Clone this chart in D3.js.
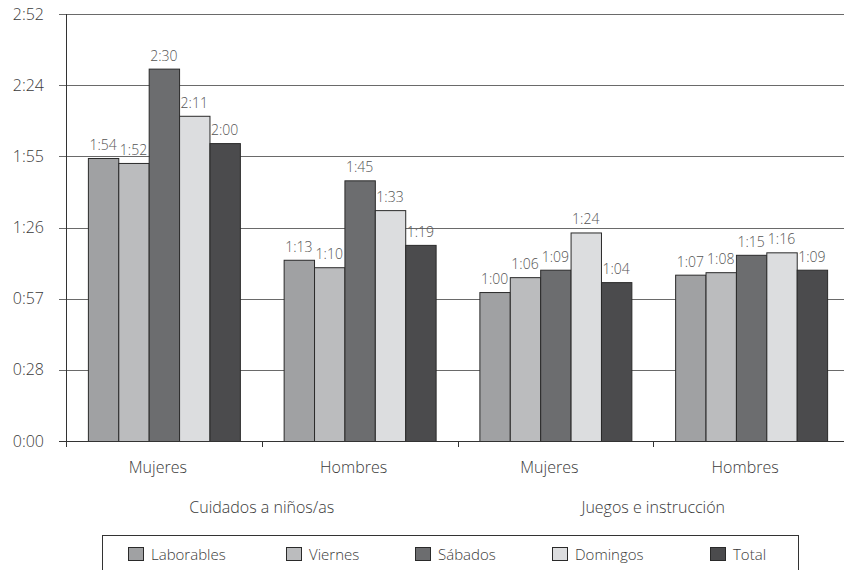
<!DOCTYPE html>
<html>
<head>
<meta charset="utf-8">
<script src="https://cdn.jsdelivr.net/npm/d3@7"></script>
<style>
  body { margin: 0; background: #fff; }
  svg { display: block; font-family: "Open Sans", "Noto Sans", sans-serif; font-weight: 300; }
</style>
</head>
<body>
<svg id="chart" width="844" height="570"></svg>
<script>
// minutes
const categories = ["Mujeres", "Hombres", "Mujeres", "Hombres"];
const groups = ["Cuidados a niños/as", "Juegos e instrucción"];
const series = ["Laborables", "Viernes", "Sábados", "Domingos", "Total"];
const laborables = [114, 73, 60, 67];
const viernes = [112, 70, 66, 68];
const sabados = [150, 105, 69, 75];
const domingos = [131, 93, 84, 76];
const total = [120, 79, 64, 69];
const yTickLabels = ["0:00", "0:28", "0:57", "1:26", "1:55", "2:24", "2:52"];
const yMax = 172;

const colors = ["#a0a1a3", "#bbbcbe", "#6c6d6f", "#dcdddf", "#4b4b4d"];
const values = [laborables, viernes, sabados, domingos, total];

const fmt = m => Math.floor(m / 60) + ":" + String(m % 60).padStart(2, "0");

const svg = d3.select("#chart");
const plotLeft = 66, plotRight = 849, plotTop = 14, plotBottom = 441;

const x0 = d3.scaleBand().domain(d3.range(categories.length)).range([plotLeft, plotRight]);
const x1 = d3.scaleBand().domain(series).range([0, x0.bandwidth()]).paddingOuter(0.72);
const y = d3.scaleLinear().domain([0, yMax]).range([plotBottom, plotTop]);
const yTicks = yTickLabels.map((d, i) => i * yMax / (yTickLabels.length - 1));

// gridlines
svg.append("g")
  .selectAll("line")
  .data(yTicks)
  .join("line")
    .attr("x1", plotLeft - 7).attr("x2", 844)
    .attr("y1", d => Math.round(y(d)) + 0.5).attr("y2", d => Math.round(y(d)) + 0.5)
    .attr("stroke", "#6a6a6a").attr("stroke-width", 1);

svg.append("g")
  .selectAll("text")
  .data(yTicks)
  .join("text")
    .attr("x", 44)
    .attr("y", d => y(d))
    .attr("dy", "0.35em")
    .attr("text-anchor", "end")
    .attr("font-size", 16)
    .attr("fill", "#3a3a3a")
    .text((d, i) => yTickLabels[i]);

// bars
const rows = [];
categories.forEach((c, i) => series.forEach((s, j) => rows.push({i, s, j, v: values[j][i]})));

const barG = svg.append("g");
barG.selectAll("rect")
  .data(rows)
  .join("rect")
    .attr("x", d => x0(d.i) + x1(d.s) + 0.5)
    .attr("y", d => y(d.v) + 0.5)
    .attr("width", x1.bandwidth())
    .attr("height", d => plotBottom - y(d.v))
    .attr("fill", d => colors[d.j])
    .attr("stroke", "#2a2a2a")
    .attr("stroke-width", 1);

barG.selectAll("text")
  .data(rows)
  .join("text")
    .attr("x", d => x0(d.i) + x1(d.s) + x1.bandwidth() / 2)
    .attr("y", d => y(d.v) - 8)
    .attr("text-anchor", "middle")
    .attr("font-size", 14)
    .attr("fill", "#555")
    .text(d => fmt(d.v));

// axes
svg.append("line")
  .attr("x1", plotLeft + 0.5).attr("x2", plotLeft + 0.5)
  .attr("y1", plotTop).attr("y2", plotBottom + 6)
  .attr("stroke", "#333");
svg.append("line")
  .attr("x1", plotLeft - 7).attr("x2", 844)
  .attr("y1", plotBottom + 0.5).attr("y2", plotBottom + 0.5)
  .attr("stroke", "#333");
svg.append("g")
  .selectAll("line")
  .data(d3.range(categories.length))
  .join("line")
    .attr("x1", d => Math.round(x0(d)) + 0.5).attr("x2", d => Math.round(x0(d)) + 0.5)
    .attr("y1", plotBottom).attr("y2", plotBottom + 6)
    .attr("stroke", "#333");

svg.append("g")
  .selectAll("text")
  .data(categories)
  .join("text")
    .attr("x", (d, i) => x0(i) + x0.bandwidth() / 2 - 6)
    .attr("y", 473)
    .attr("text-anchor", "middle")
    .attr("font-size", 16)
    .attr("fill", "#3a3a3a")
    .text(d => d);

svg.append("g")
  .selectAll("text")
  .data(groups)
  .join("text")
    .attr("x", (d, i) => x0(i * 2) + x0.bandwidth())
    .attr("y", 513)
    .attr("text-anchor", "middle")
    .attr("font-size", 16)
    .attr("fill", "#3a3a3a")
    .text(d => d);

// legend
const legendX = [128, 286, 415, 552, 710];
svg.append("rect")
  .attr("x", 102.5).attr("y", 535.5)
  .attr("width", 696).attr("height", 60)
  .attr("fill", "none").attr("stroke", "#333");
const lg = svg.append("g")
  .selectAll("g")
  .data(series)
  .join("g")
    .attr("transform", (d, i) => `translate(${legendX[i]},547)`);
lg.append("rect")
  .attr("x", 0.5).attr("y", 0.5)
  .attr("width", 15).attr("height", 13)
  .attr("fill", (d, i) => colors[i])
  .attr("stroke", "#2a2a2a");
lg.append("text")
  .attr("x", 23).attr("y", 13)
  .attr("font-size", 15)
  .attr("fill", "#3a3a3a")
  .text(d => d);
</script>
</body>
</html>
